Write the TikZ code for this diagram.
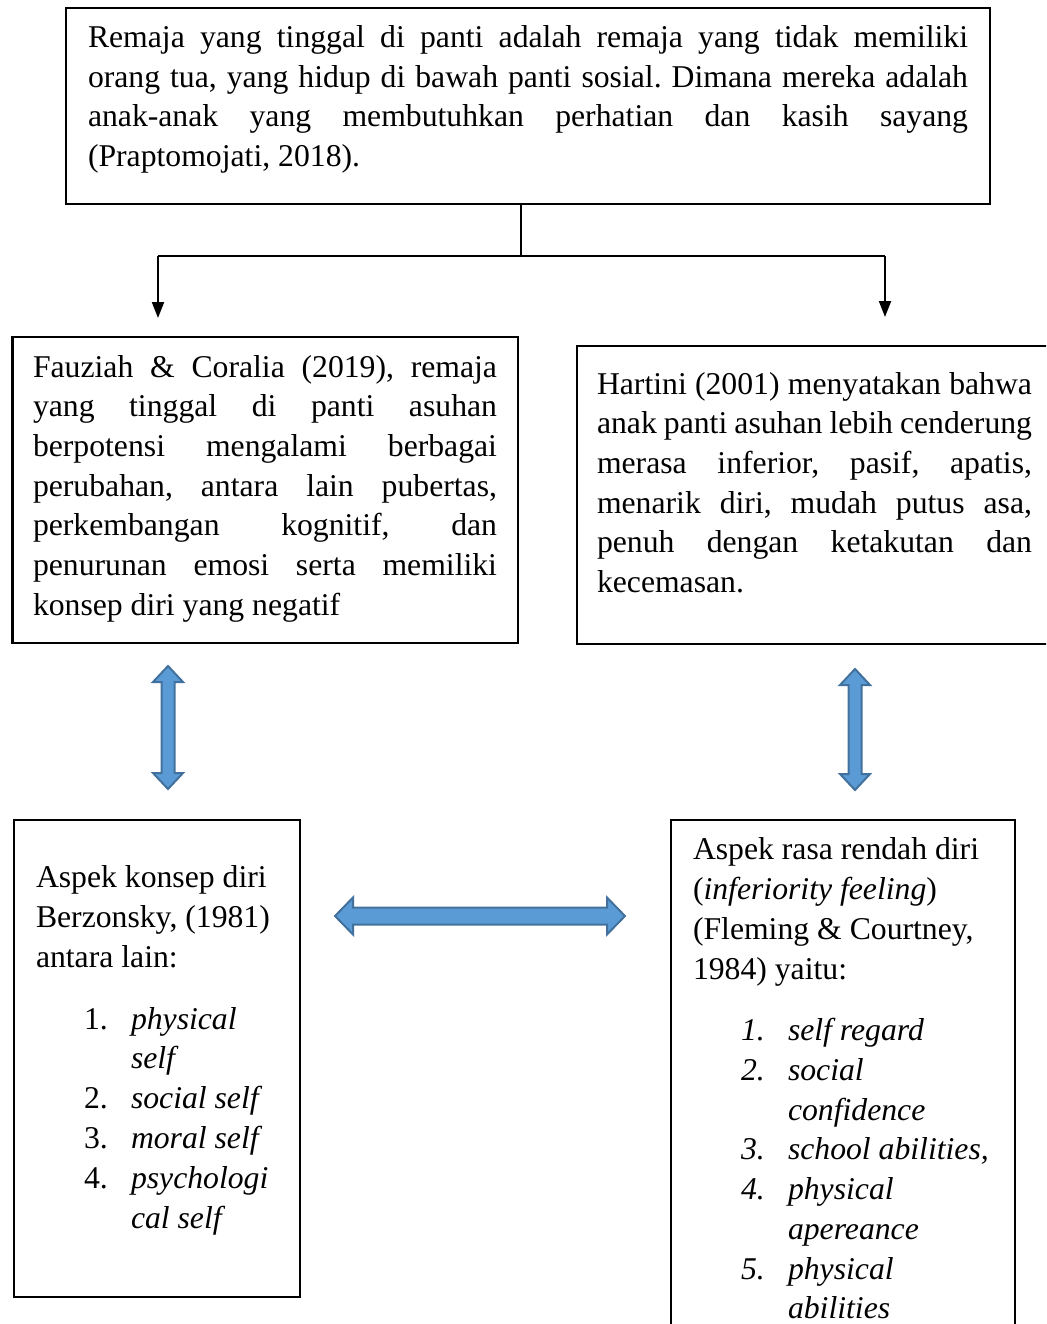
\documentclass[tikz,border=0pt]{standalone}
\usepackage{fontspec}
\setmainfont{Liberation Serif}
\usetikzlibrary{arrows.meta}
\definecolor{arrfill}{HTML}{5B9BD5}
\definecolor{arrline}{HTML}{41719C}
\frenchspacing
\begin{document}
\begin{tikzpicture}[x=1pt,y=-1pt,
  box/.style={draw=black,line width=2.4pt,rectangle,anchor=north west,inner sep=0pt,outer sep=0pt},
  txt/.style={anchor=base west,inner sep=0pt,outer sep=0pt,font=\fontsize{31.7}{39.6}\selectfont},
  conn/.style={draw=black,line width=2pt},
  connarrow/.style={conn,-{Triangle[length=16pt,width=12pt]}},
  bluearrow/.style={fill=arrfill,draw=arrline,line width=2pt,line join=miter}]
\useasboundingbox (0,0) rectangle (1046,1324);
\clip (0,0) rectangle (1046,1324);

% boxes
\node[box,minimum width=924pt,minimum height=196pt] (top) at (66,8) {};
\node[box,minimum width=505.5pt,minimum height=306pt] (lbox) at (12.5,337) {};
\node[box,minimum width=490pt,minimum height=298pt] (rbox) at (577,346) {};
\node[box,minimum width=286pt,minimum height=477pt] (blbox) at (14,820) {};
\node[box,minimum width=344pt,minimum height=530pt] (brbox) at (671,820) {};

% top text
\node[txt] (t1) at (88,48) {\makebox[880pt][s]{Remaja yang tinggal di panti adalah remaja yang tidak memiliki}};
\node[txt] (t2) at (88,87.5) {\makebox[880pt][s]{orang tua, yang hidup di bawah panti sosial. Dimana mereka adalah}};
\node[txt] (t3) at (88,127) {\makebox[880pt][s]{anak-anak yang membutuhkan perhatian dan kasih sayang}};
\node[txt] (t4) at (88,166.5) {(Praptomojati, 2018).};

% left text
\node[txt] (l1) at (33,377) {\makebox[464pt][s]{Fauziah \& Coralia (2019), remaja}};
\node[txt] (l2) at (33,416.7) {\makebox[464pt][s]{yang tinggal di panti asuhan}};
\node[txt] (l3) at (33,456.4) {\makebox[464pt][s]{berpotensi mengalami berbagai}};
\node[txt] (l4) at (33,496.1) {\makebox[464pt][s]{perubahan, antara lain pubertas,}};
\node[txt] (l5) at (33,535.8) {\makebox[464pt][s]{perkembangan kognitif, dan}};
\node[txt] (l6) at (33,575.5) {\makebox[464pt][s]{penurunan emosi serta memiliki}};
\node[txt] (l7) at (33,615.2) {konsep diri yang negatif};

% right text
\node[txt] (r1) at (597,394) {\makebox[435pt][s]{Hartini (2001) menyatakan bahwa}};
\node[txt] (r2) at (597,433.7) {\makebox[435pt][s]{anak panti asuhan lebih cenderung}};
\node[txt] (r3) at (597,473.4) {\makebox[435pt][s]{merasa inferior, pasif, apatis,}};
\node[txt] (r4) at (597,513.1) {\makebox[435pt][s]{menarik diri, mudah putus asa,}};
\node[txt] (r5) at (597,552.8) {\makebox[435pt][s]{penuh dengan ketakutan dan}};
\node[txt] (r6) at (597,592.5) {kecemasan.};

% bottom left text
\node[txt] (bl1) at (36,887) {Aspek konsep diri};
\node[txt] (bl2) at (36,927) {Berzonsky, (1981)};
\node[txt] (bl3) at (36,967) {antara lain:};
\node[txt] (bln1) at (84,1029) {1.};
\node[txt] (bli1) at (131,1029) {\textit{physical}};
\node[txt] (bli1b) at (131,1068) {\textit{self}};
\node[txt] (bln2) at (84,1108) {2.};
\node[txt] (bli2) at (131,1108) {\textit{social self}};
\node[txt] (bln3) at (84,1148) {3.};
\node[txt] (bli3) at (131,1148) {\textit{moral self}};
\node[txt] (bln4) at (84,1188) {4.};
\node[txt] (bli4) at (131,1188) {\textit{psychologi}};
\node[txt] (bli4b) at (131,1228) {\textit{cal self}};

% bottom right text
\node[txt] (br1) at (693,859) {Aspek rasa rendah diri};
\node[txt] (br2) at (693,899) {(\textit{inferiority feeling})};
\node[txt] (br3) at (693,939) {(Fleming \& Courtney,};
\node[txt] (br4) at (693,979) {1984) yaitu:};
\node[txt] (brn1) at (741,1040) {\textit{1.}};
\node[txt] (bri1) at (788,1040) {\textit{self regard}};
\node[txt] (brn2) at (741,1080) {\textit{2.}};
\node[txt] (bri2) at (788,1080) {\textit{social}};
\node[txt] (bri2b) at (788,1120) {\textit{confidence}};
\node[txt] (brn3) at (741,1159) {\textit{3.}};
\node[txt] (bri3) at (788,1159) {\textit{school abilities,}};
\node[txt] (brn4) at (741,1199) {\textit{4.}};
\node[txt] (bri4) at (788,1199) {\textit{physical}};
\node[txt] (bri4b) at (788,1239) {\textit{apereance}};
\node[txt] (brn5) at (741,1279) {\textit{5.}};
\node[txt] (bri5) at (788,1279) {\textit{physical}};
\node[txt] (bri5b) at (788,1318) {\textit{abilities}};

% connectors
\coordinate (j) at (521,256);
\coordinate (jl) at (158,256);
\coordinate (jr) at (885,256);
\coordinate (al) at (158,318);
\coordinate (ar) at (885,317);
\draw[conn] (top.south -| j) -- (j);
\draw[conn] (jl) -- (jr);
\draw[connarrow] (jl) -- (al);
\draw[connarrow] (jr) -- (ar);

% blue double arrows
\draw[bluearrow] (168,666) -- (183,682) -- (174.5,682) -- (174.5,773) -- (183,773) -- (168,789) -- (153,773) -- (161.5,773) -- (161.5,682) -- (153,682) -- cycle;
\draw[bluearrow] (855,669) -- (870,685) -- (861.5,685) -- (861.5,774) -- (870,774) -- (855,790) -- (840,774) -- (848.5,774) -- (848.5,685) -- (840,685) -- cycle;
\draw[bluearrow] (335,916) -- (353,897.5) -- (353,907.5) -- (607,907.5) -- (607,897.5) -- (625,916) -- (607,934.5) -- (607,924.5) -- (353,924.5) -- (353,934.5) -- cycle;
\end{tikzpicture}
\end{document}
